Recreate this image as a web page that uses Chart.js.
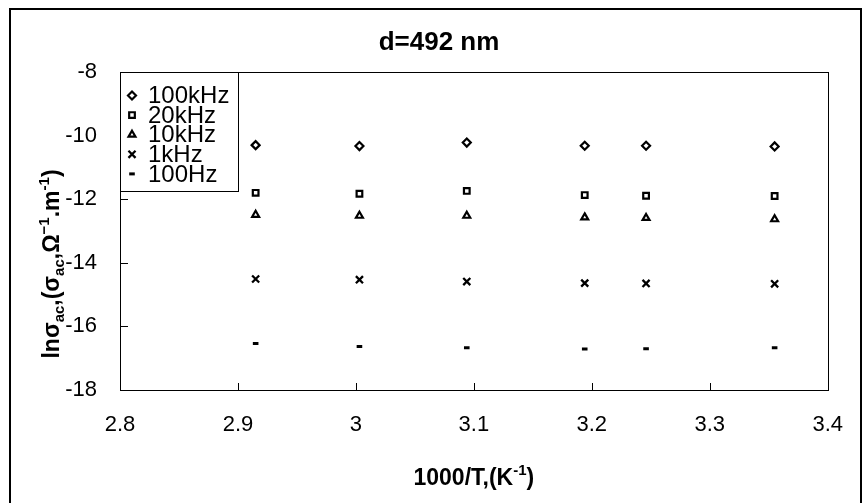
<!DOCTYPE html>
<html>
<head>
<meta charset="utf-8">
<script src="https://cdn.jsdelivr.net/npm/chart.js@4.4.1/dist/chart.umd.min.js"></script>
<style>
  html, body { margin: 0; padding: 0; background: #fff; }
  #wrap { width: 865px; height: 503px; }
</style>
</head>
<body>
<div id="wrap"><canvas id="condChart" width="865" height="503"></canvas></div>
<script>
// 1000/T values of the measurement temperatures
var invT = [2.915, 3.003, 3.094, 3.194, 3.246, 3.355];

// ln(sigma_ac) for every frequency
var freqLabels = ["100kHz", "20kHz", "10kHz", "1kHz", "100Hz"];
var ln100k = [-10.30, -10.33, -10.22, -10.32, -10.32, -10.34];
var ln20k = [-11.80, -11.83, -11.74, -11.87, -11.89, -11.90];
var ln10k = [-12.49, -12.52, -12.52, -12.57, -12.59, -12.63];
var ln1k = [-14.51, -14.53, -14.59, -14.64, -14.65, -14.66];
var ln100 = [-16.54, -16.63, -16.67, -16.71, -16.70, -16.67];

var xTicks = [2.8, 2.9, 3.0, 3.1, 3.2, 3.3, 3.4];
var yTicks = [-18, -16, -14, -12, -10, -8];

var FONT = "'Liberation Sans', Arial, sans-serif";

var markers = [
  { style: "rectRot", radius: 4, width: 2.2, fill: "#fff" },
  { style: "rect", radius: 4, width: 2.2, fill: "#fff" },
  { style: "triangle", radius: 4, width: 2.2, fill: "#fff" },
  { style: "crossRot", radius: 5, width: 2.3, fill: "#fff" },
  { style: "line", radius: 2.8, width: 3, fill: "#000" }
];

function makeDataset(label, values, m) {
  return {
    label: label,
    data: invT.map(function (x, i) { return { x: x, y: values[i] }; }),
    showLine: false,
    pointStyle: m.style,
    pointRadius: m.radius,
    pointHoverRadius: m.radius,
    pointBorderWidth: m.width,
    pointBorderColor: "#000",
    pointBackgroundColor: m.fill
  };
}

// draws a list of [text, "n"|"sub"|"sup"] runs starting at x, baseline y
function drawRuns(ctx, runs, x, y, size, measureOnly) {
  var total = 0;
  runs.forEach(function (r) {
    var s = r[1] === "n" ? size : Math.round(size * 0.64);
    var dy = r[1] === "sub" ? size * 0.22 : (r[1] === "sup" ? -size * 0.42 : 0);
    ctx.font = "bold " + s + "px " + FONT;
    if (!measureOnly) ctx.fillText(r[0], x + total, y + dy);
    total += ctx.measureText(r[0]).width;
  });
  return total;
}

var framePlugin = {
  id: "frame",
  afterDraw: function (c) {
    var ctx = c.ctx;
    var a = c.chartArea;
    var xs = c.scales.x, ys = c.scales.y;
    ctx.save();

    // outer border of the figure
    ctx.strokeStyle = "#000";
    ctx.lineWidth = 2;
    ctx.beginPath();
    ctx.moveTo(10, 510);
    ctx.lineTo(10, 9);
    ctx.lineTo(861, 9);
    ctx.lineTo(861, 510);
    ctx.stroke();

    // plot box
    ctx.lineWidth = 1;
    ctx.strokeRect(Math.round(a.left) + 0.5, Math.round(a.top) + 0.5,
      Math.round(a.right - a.left), Math.round(a.bottom - a.top));

    // inward tick marks
    ctx.beginPath();
    xTicks.forEach(function (v) {
      var px = Math.round(xs.getPixelForValue(v)) + 0.5;
      ctx.moveTo(px, a.bottom);
      ctx.lineTo(px, a.bottom - 7);
    });
    yTicks.forEach(function (v) {
      var py = Math.round(ys.getPixelForValue(v)) + 0.5;
      ctx.moveTo(a.left, py);
      ctx.lineTo(a.left + 8, py);
    });
    ctx.stroke();

    // title
    ctx.fillStyle = "#000";
    ctx.textAlign = "center";
    ctx.textBaseline = "middle";
    ctx.font = "bold 26px " + FONT;
    ctx.fillText("d=492 nm", 439, 43);

    // x axis title
    ctx.textAlign = "left";
    ctx.textBaseline = "alphabetic";
    var xRuns = [["1000/T,(K", "n"], ["-1", "sup"], [")", "n"]];
    var w = drawRuns(ctx, xRuns, 0, 0, 23, true);
    drawRuns(ctx, xRuns, (a.left + a.right) / 2 - w / 2, 485, 23);

    // y axis title
    var yRuns = [["ln\u03c3", "n"], ["ac", "sub"], [",(\u03c3", "n"], ["ac", "sub"],
      [",\u03a9", "n"], ["\u22121", "sup"], [".m", "n"], ["-1", "sup"], [")", "n"]];
    var wy = drawRuns(ctx, yRuns, 0, 0, 23, true);
    ctx.translate(59, 264);
    ctx.rotate(-Math.PI / 2);
    drawRuns(ctx, yRuns, -wy / 2, 0, 23);
    ctx.restore();

    // legend box in the upper left corner of the plot
    ctx.save();
    var lx = Math.round(a.left) + 0.5, ly = Math.round(a.top) + 0.5;
    ctx.fillStyle = "#fff";
    ctx.fillRect(lx, ly, 118, 119);
    ctx.strokeStyle = "#000";
    ctx.lineWidth = 1;
    ctx.strokeRect(lx, ly, 118, 119);
    c.data.datasets.forEach(function (ds, i) {
      var ry = a.top + 23.5 + i * 19.6;
      var m = markers[i];
      ctx.strokeStyle = "#000";
      ctx.fillStyle = m.fill;
      ctx.lineWidth = m.width;
      Chart.helpers.drawPoint(ctx, {
        pointStyle: m.style, radius: m.radius, borderWidth: m.width, rotation: 0
      }, a.left + 12, ry);
      ctx.fillStyle = "#000";
      ctx.font = "24px " + FONT;
      ctx.textAlign = "left";
      ctx.textBaseline = "middle";
      ctx.fillText(ds.label, a.left + 28, ry + 1);
    });
    ctx.restore();
  }
};

var ctx = document.getElementById("condChart");
var chart = new Chart(ctx, {
  type: "scatter",
  data: {
    datasets: [
      makeDataset(freqLabels[0], ln100k, markers[0]),
      makeDataset(freqLabels[1], ln20k, markers[1]),
      makeDataset(freqLabels[2], ln10k, markers[2]),
      makeDataset(freqLabels[3], ln1k, markers[3]),
      makeDataset(freqLabels[4], ln100, markers[4])
    ]
  },
  options: {
    responsive: false,
    animation: false,
    events: [],
    layout: { padding: { left: 0, top: 72, right: 16, bottom: 0 } },
    plugins: {
      legend: { display: false },
      title: { display: false },
      tooltip: { enabled: false }
    },
    scales: {
      x: {
        type: "linear",
        min: 2.8,
        max: 3.4,
        afterBuildTicks: function (s) {
          s.ticks = xTicks.map(function (v) { return { value: v }; });
        },
        afterFit: function (s) { s.height = 113; },
        grid: { display: false, drawTicks: false },
        border: { display: false },
        ticks: {
          padding: 22,
          color: "#000",
          maxRotation: 0,
          font: { family: FONT, size: 22 },
          callback: function (v) { return String(+v.toFixed(1)); }
        }
      },
      y: {
        type: "linear",
        min: -18,
        max: -8,
        afterBuildTicks: function (s) {
          s.ticks = yTicks.map(function (v) { return { value: v }; });
        },
        afterFit: function (s) { s.width = 120; },
        grid: { display: false, drawTicks: false },
        border: { display: false },
        ticks: {
          padding: 23,
          color: "#000",
          font: { family: FONT, size: 22 },
          callback: function (v) { return String(v); }
        }
      }
    }
  },
  plugins: [framePlugin]
});
</script>
</body>
</html>
